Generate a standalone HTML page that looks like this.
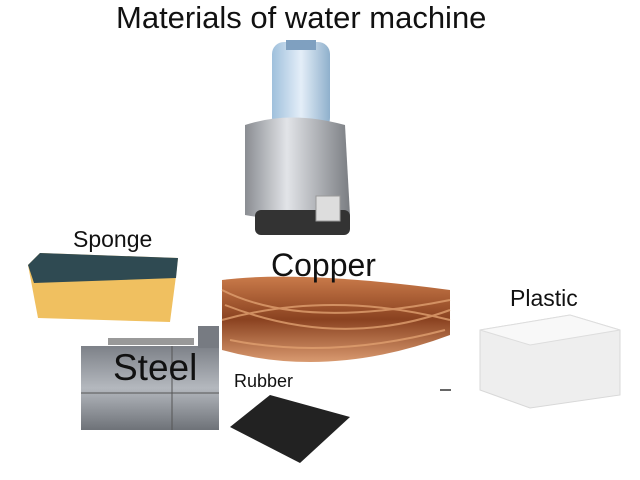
<!DOCTYPE html>
<html><head><style>
body{margin:0;width:640px;height:480px;background:#fff;position:relative;overflow:hidden;font-family:"Liberation Sans",sans-serif;}
.t{position:absolute;color:#111;white-space:nowrap;}
</style></head><body>
<div class="t" style="left:116px;top:0px;font-size:31px;">Materials of water machine</div>
<svg width="640" height="480" style="position:absolute;left:0;top:0">
<defs>
<linearGradient id="bt" x1="0" x2="1"><stop offset="0" stop-color="#9fc0dc"/><stop offset=".5" stop-color="#e4eef8"/><stop offset="1" stop-color="#8fb0cc"/></linearGradient>
<linearGradient id="sv" x1="0" x2="1"><stop offset="0" stop-color="#8a8d92"/><stop offset=".4" stop-color="#e2e4e8"/><stop offset="1" stop-color="#7a7d82"/></linearGradient>
<linearGradient id="st" x1="0" y1="0" x2="0" y2="1"><stop offset="0" stop-color="#7d8188"/><stop offset=".5" stop-color="#b4b8be"/><stop offset="1" stop-color="#6e7278"/></linearGradient>
<linearGradient id="cu" x1="0" y1="0" x2="0" y2="1"><stop offset="0" stop-color="#c97a4a"/><stop offset=".5" stop-color="#8a4220"/><stop offset="1" stop-color="#d99a70"/></linearGradient>
</defs>
<rect x="272" y="42" width="58" height="88" rx="12" fill="url(#bt)"/>
<rect x="286" y="40" width="30" height="10" fill="#7fa0c0"/>
<path d="M245 125 Q290 110 345 125 L350 215 Q300 225 245 215 Z" fill="url(#sv)"/>
<rect x="255" y="210" width="95" height="25" rx="6" fill="#333"/>
<rect x="316" y="196" width="24" height="25" fill="#ddd" stroke="#999"/>
<path d="M28 265 L40 253 L178 258 L176 276 L170 322 L38 318 Z" fill="#f0c060"/>
<path d="M28 265 L40 253 L178 258 L176 278 L34 283 Z" fill="#2f4a52"/>
<path d="M222 280 Q300 270 450 290 L450 335 Q330 380 222 350 Z" fill="url(#cu)"/>
<g stroke="#e0a070" stroke-width="2" fill="none" opacity=".8">
<path d="M222 290 Q300 330 450 300"/><path d="M222 320 Q330 290 450 320"/><path d="M230 340 Q330 360 445 330"/><path d="M225 305 Q340 350 450 310"/></g>
<path d="M480 330 L570 315 L620 330 L620 395 L530 408 L480 390 Z" fill="#eeeeee" stroke="#d8d8d8"/>
<path d="M480 330 L570 315 L620 330 L530 345 Z" fill="#f8f8f8" stroke="#ddd"/>
<rect x="81" y="346" width="138" height="84" fill="url(#st)"/>
<rect x="198" y="326" width="21" height="22" fill="#777b82"/>
<rect x="108" y="338" width="86" height="7" fill="#999"/>
<line x1="81" y1="393" x2="219" y2="393" stroke="#555"/>
<line x1="172" y1="346" x2="172" y2="430" stroke="#555"/>
<path d="M270 395 L350 417 L300 463 L230 427 Z" fill="#222"/>
<line x1="440" y1="390" x2="451" y2="390" stroke="#333" stroke-width="1.5"/>
</svg>
<div class="t" style="left:73px;top:226px;font-size:23px;">Sponge</div>
<div class="t" style="left:271px;top:247px;font-size:32px;">Copper</div>
<div class="t" style="left:510px;top:285px;font-size:23px;">Plastic</div>
<div class="t" style="left:113px;top:347px;font-size:37px;">Steel</div>
<div class="t" style="left:234px;top:371px;font-size:18px;">Rubber</div>
</body></html>
